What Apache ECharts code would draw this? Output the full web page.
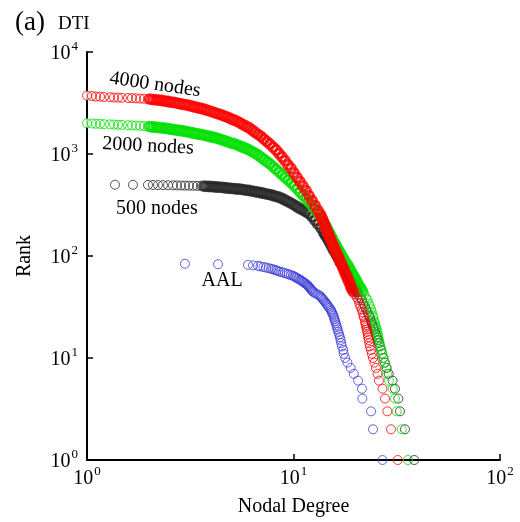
<!DOCTYPE html>
<html>
<head>
<meta charset="utf-8">
<script src="https://cdn.jsdelivr.net/npm/echarts@6/dist/echarts.min.js"></script>
<style>
html,body{margin:0;padding:0;background:#fff;}
#chart{width:520px;height:522px;}
</style>
</head>
<body>
<div id="chart"></div>
<script>
// ---------------- data ----------------
const xTicks = [1, 10, 100];
const yTicks = [1, 10, 100, 1000, 10000];

// AAL (blue)
const aalDegree = [2.98,4.31,6.02,6.37,6.73,6.92,7.16,7.36,7.58,7.78,7.96,8.14,8.28,8.44,8.63,8.86,9.07,9.30,9.49,9.71,9.94,10.08,10.22,10.36,10.53,10.67,10.82,10.96,11.09,11.24,11.38,11.52,11.66,11.75,11.86,11.97,12.07,12.18,12.29,12.40,12.55,12.79,13.07,13.35,13.56,13.68,13.83,13.97,14.13,14.29,14.45,14.60,14.74,14.91,15.12,15.23,15.35,15.47,15.62,15.71,15.79,15.90,16.01,16.13,16.24,16.37,16.48,16.63,16.78,16.91,17.02,17.16,17.41,17.50,17.80,18.24,18.92,19.59,20.53,21.46,21.54,23.73,24.27,26.98];
const aalRank = [84,83,82,81,80,79,78,77,76,75,74,73,72,71,70,69,68,67,66,65,64,63,62,61,60,59,58,57,56,55,54,53,52,51,50,49,48,47,46,45,44,43,42,41,40,39,38,37,36,35,34,33,32,31,30,29,28,27,26,25,24,23,22,21,20,19,18,17,16,15,14,13,12,11,10,9,8,7,6,5,4,3,2,1];

// 500 nodes (black)
const n500Degree = [1.366,1.670,1.974,2.087,2.207,2.334,2.468,2.609,2.727,2.853,2.983,3.118,3.262,3.410,3.565,
3.686,3.811,3.941,4.076,4.214,4.357,4.506,4.659,4.817,4.981,5.151,5.326,5.507,5.693,5.888,6.088,6.295,6.511,6.731,6.959,7.196,7.441,7.694,7.956,8.227,8.507,8.797,9.096,9.407,9.725,10.06,10.40,10.75,11.12,11.50,11.89,12.29,12.71,13.14,13.59,
14.0,14.27,14.54,14.84,15.11,15.40,15.68,15.97,16.26,16.57,16.87,17.19,17.50,17.82,18.14,18.47,18.82,19.16,19.50,19.85,20.25,20.64,21.06,21.46,21.80,22.14,22.50,22.85,23.18,23.49,23.78,
23.94,24.18,24.40,24.65,24.86,25.12,25.38,25.63,25.92,26.24,26.59,26.92,27.28,27.71,28.27,28.91,30.19,31.0,32.18,32.79,34.67,38.46];
const n500Rank = [500,499,498,497,496,495,494,493,492,491,490,489,488,487,486,
484,482,480,478,475,473,470,467,463,460,457,454,452,447,443,439,433,428,422,417,411,405,400,392,384,377,366,354,342,330,317,304,292,282,271,260,243,224,205,188,
171,160,150,140,131,122,114,107,100,94,87,82,77,72,67,63,59,55,51,48,45,42,39,37,34,32,30,28,26,25,23,
22,21,20,19,18,17,16,15,14,13,12,11,10,9,8,7,6,5,4,3,2,1];

// 2000 nodes (green)
const n2000Degree = [1.00,1.057,1.106,1.156,1.209,1.292,1.351,1.413,1.477,1.579,1.652,1.727,1.806,1.888,1.974,
2.02,2.09,2.16,2.23,2.31,2.39,2.47,2.55,2.64,2.73,2.82,2.92,3.02,3.12,3.23,3.33,3.45,3.57,3.69,3.81,3.94,4.08,4.21,4.36,4.51,4.66,4.82,4.98,5.15,5.33,5.51,5.69,5.89,6.09,6.30,6.51,6.73,6.96,7.20,7.44,7.69,7.96,8.23,8.51,8.80,9.10,9.41,9.73,10.06,10.40,10.75,11.12,11.50,11.89,12.29,12.71,13.14,
13.61,13.85,14.11,14.37,14.61,14.86,15.11,15.37,15.64,15.94,16.23,16.54,16.84,17.16,17.48,17.86,18.24,18.59,18.92,19.28,19.65,20.01,20.39,20.78,21.18,21.58,22.02,22.46,22.85,23.18,23.47,23.73,23.97,24.21,24.35,
24.65,24.76,24.92,25.12,25.31,25.45,25.63,25.77,25.94,26.15,26.35,26.59,26.89,27.22,27.56,28.05,28.36,29.0,30.22,31.0,31.61,33.42,35.84];
const n2000Rank = [2000,1990,1980,1975,1960,1950,1945,1935,1930,1915,1910,1900,1890,1880,1870,
1855,1840,1830,1815,1800,1790,1770,1750,1730,1715,1700,1680,1660,1640,1615,1590,1570,1550,1530,1505,1485,1460,1440,1405,1375,1345,1315,1280,1262,1228,1196,1164,1133,1096,1057,1020,978,929,884,840,800,753,709,667,628,591,557,523,489,457,424,393,366,337,311,286,264,
239,224,209,196,183,171,160,150,140,131,122,114,107,100,94,87,82,77,72,67,63,59,55,51,48,45,42,39,37,34,32,30,28,26,25,
23,22,21,20,19,18,17,16,15,14,13,12,11,10,9,8,7,6,5,4,3,2,1];

// 4000 nodes (red)
const n4000Degree = [1.00,1.057,1.106,1.156,1.209,1.292,1.351,1.413,1.477,1.579,1.652,1.727,1.806,1.888,1.974,
2.02,2.09,2.16,2.23,2.31,2.39,2.47,2.55,2.64,2.73,2.82,2.92,3.02,3.12,3.23,3.33,3.45,3.57,3.69,3.81,3.94,4.08,4.21,4.36,4.51,4.66,4.82,4.98,5.15,5.33,5.51,5.69,5.89,6.09,6.30,6.51,6.73,6.96,7.20,7.44,7.69,7.96,8.23,8.51,8.80,9.10,9.41,9.73,10.06,10.40,10.75,11.12,11.50,11.89,12.29,12.71,13.14,
13.50,13.68,13.87,14.05,14.24,14.43,14.63,14.82,15.03,15.25,15.47,15.69,15.92,16.15,16.39,16.63,16.87,17.12,17.35,17.60,17.84,18.10,18.34,18.61,18.9,19.1,19.45,19.8,20.3,20.6,20.85,21.1,21.4,21.6,21.8,21.95,22.15,
22.3,22.4,22.5,22.65,22.78,22.9,23.0,23.13,23.29,23.44,23.71,23.95,24.27,24.65,25.08,25.51,25.94,26.98,27.74,28.46,29.66,31.96];
const n4000Rank = [3740,3700,3660,3650,3620,3600,3580,3570,3560,3540,3530,3510,3490,3480,3460,
3450,3420,3400,3370,3345,3300,3270,3230,3200,3160,3110,3070,3030,2990,2940,2890,2840,2800,2745,2690,2630,2575,2520,2465,2405,2340,2290,2210,2155,2085,2020,1945,1870,1810,1720,1635,1560,1490,1400,1322,1251,1170,1094,1011,935,861,783,723,654,591,535,484,437,391,350,313,280,
256,239,224,209,196,183,171,160,150,140,131,122,114,107,100,94,87,82,77,72,67,63,59,55,51,48,45,42,39,37,34,32,30,28,26,25,23,
22,21,20,19,18,17,16,15,14,13,12,11,10,9,8,7,6,5,4,3,2,1];

// series labels and where they sit (data coordinates)
const labelTexts = ['4000 nodes', '2000 nodes', '500 nodes', 'AAL'];
const labelDegree = [2.135, 1.974, 2.18, 4.51];
const labelRank = [4786, 1196, 292, 57.2];
const labelAngle = [-8, -3, 0, 0];

// ---------------- chart ----------------
const FONT = '"Liberation Serif", "DejaVu Serif", serif';
const chart = echarts.init(document.getElementById('chart'), null, {renderer: 'canvas'});

// points after the sparse low-degree start and above this rank overlap into a solid band
const DENSE_START = 15, DENSE_MIN_RANK = 45;

function pts(xs, ys, whiteFirst, denseBand) {
  return xs.map((x, i) => {
    const item = {value: [x, ys[i]]};
    if (whiteFirst && i === 0) {
      item.itemStyle = {color: '#ffffff'};
    } else if (denseBand && i >= DENSE_START && ys[i] >= DENSE_MIN_RANK) {
      item.itemStyle = {borderWidth: 2.8};
    }
    return item;
  });
}
function supLabel(v) {
  const e = Math.round(Math.log10(v));
  return '{b|10}{s|' + e + '}';
}
const richSup = {
  b: {fontFamily: FONT, fontSize: 20, color: '#000', lineHeight: 24, verticalAlign: 'bottom'},
  s: {fontFamily: FONT, fontSize: 13, color: '#000', lineHeight: 24, verticalAlign: 'top', padding: [0, 0, 0, 1]}
};

function scatter(name, xs, ys, color, whiteFirst, denseBand) {
  return {
    name: name,
    type: 'scatter',
    symbol: 'circle',
    symbolSize: 9,
    clip: false,
    itemStyle: {color: 'rgba(0,0,0,0)', borderColor: color, borderWidth: 1},
    emphasis: {disabled: true},
    data: pts(xs, ys, whiteFirst, denseBand)
  };
}

const option = {
  animation: false,
  backgroundColor: '#ffffff',
  grid: {left: 87, right: 20, top: 52, bottom: 58, containLabel: false},
  xAxis: {
    type: 'log', logBase: 10, min: xTicks[0], max: xTicks[xTicks.length - 1],
    splitNumber: 2,
    name: 'Nodal Degree', nameLocation: 'middle', nameGap: 37,
    nameTextStyle: {fontFamily: FONT, fontSize: 20, color: '#000'},
    axisLine: {show: true, lineStyle: {color: '#000', width: 2}},
    axisTick: {show: true, inside: true, length: 6, lineStyle: {color: '#000', width: 1.5}},
    minorTick: {show: false},
    splitLine: {show: false},
    axisLabel: {margin: 5, formatter: supLabel, rich: richSup}
  },
  yAxis: {
    type: 'log', logBase: 10, min: yTicks[0], max: yTicks[yTicks.length - 1],
    splitNumber: 4,
    name: 'Rank', nameLocation: 'middle', nameGap: 52,
    nameTextStyle: {fontFamily: FONT, fontSize: 20, color: '#000'},
    axisLine: {show: true, lineStyle: {color: '#000', width: 2}},
    axisTick: {show: true, inside: true, length: 6, lineStyle: {color: '#000', width: 1.5}},
    minorTick: {show: false},
    splitLine: {show: false},
    axisLabel: {margin: 9, formatter: supLabel, rich: richSup}
  },
  series: [
    scatter('AAL', aalDegree, aalRank, '#3a3ad8', false, false),
    scatter('500 nodes', n500Degree, n500Rank, '#262626', false, true),
    scatter('2000 nodes', n2000Degree, n2000Rank, '#00e000', true, true),
    scatter('4000 nodes', n4000Degree, n4000Rank, '#ff0000', true, true)
  ]
};
chart.setOption(option);

const graphics = [
  {type: 'text', x: 15, y: 36, z: 10,
   style: {text: '(a)', fontFamily: FONT, fontSize: 27, fill: '#000', align: 'left', verticalAlign: 'bottom'}},
  {type: 'text', x: 58, y: 34, z: 10,
   style: {text: 'DTI', fontFamily: FONT, fontSize: 19, fill: '#000', align: 'left', verticalAlign: 'bottom'}}
];
labelTexts.forEach((t, i) => {
  const p = chart.convertToPixel({gridIndex: 0}, [labelDegree[i], labelRank[i]]);
  graphics.push({
    type: 'text', x: p[0], y: p[1], rotation: labelAngle[i] * Math.PI / 180, z: 10,
    style: {text: t, fontFamily: FONT, fontSize: 20, fill: '#000', align: 'center', verticalAlign: 'middle'}
  });
});
chart.setOption({graphic: graphics});
</script>
</body>
</html>
